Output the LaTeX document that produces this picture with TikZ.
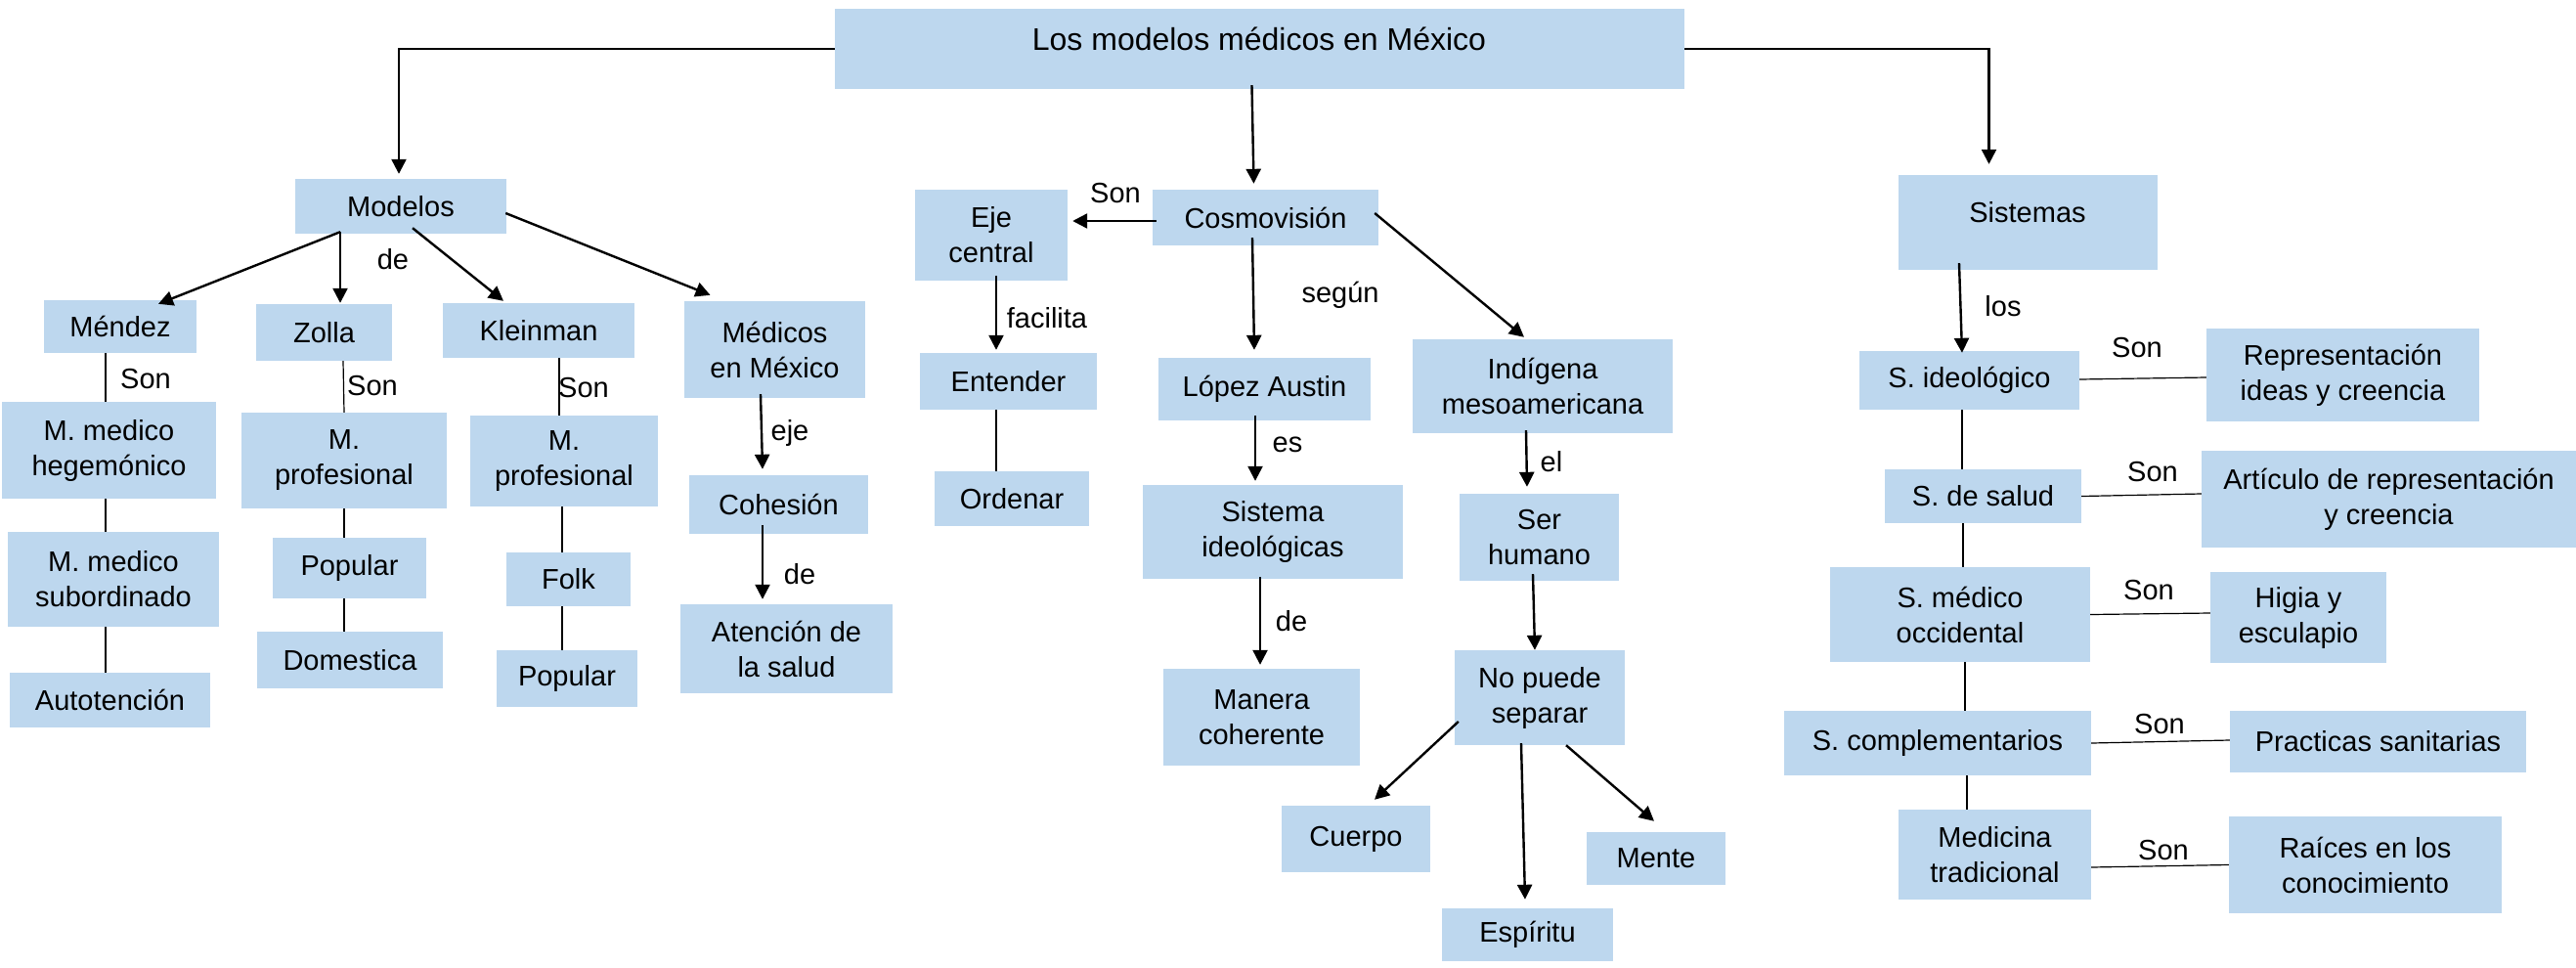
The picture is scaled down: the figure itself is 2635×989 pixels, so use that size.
\documentclass[tikz,border=0pt]{standalone}
\usepackage{fontspec}
\setmainfont{Liberation Sans}
\usetikzlibrary{arrows.meta}
\definecolor{boxblue}{RGB}{189,215,238}
\newcommand\BX[6]{\node[box,minimum width={#4-#2},minimum height={#5-#3}] (#1) at ({(#2+#4)/2},{(#3+#5)/2}) {#6};}
\begin{document}
\begin{tikzpicture}[x=1pt,y=-1pt,
 box/.style={fill=boxblue,inner sep=0pt,align=center,font=\fontsize{29}{36}\selectfont},
 lbl/.style={inner sep=0pt,font=\fontsize{29}{36}\selectfont},
 arr/.style={line width=2.4pt,-{Triangle[length=15pt,width=15pt]}},
 conn/.style={line width=1.2pt}]
\useasboundingbox (0,0) rectangle (2635,989);
% boxes
\BX{title}{854}{9}{1723}{91}{}
\node[lbl,font=\fontsize{32}{38}\selectfont] (titletxt) at (1288,40) {Los modelos médicos en México};
\BX{modelos}{302}{183}{518}{239}{Modelos}
\BX{mendez}{45}{307}{201}{361}{Méndez}
\BX{zolla}{262}{311}{401}{369}{Zolla}
\BX{klein}{453}{310}{649}{366}{Kleinman}
\BX{medicos}{700}{308}{885}{407}{Médicos\\en México}
\BX{hege}{2}{411}{221}{510}{M. medico\\hegemónico}
\BX{subo}{8}{544}{224}{641}{M. medico\\subordinado}
\BX{auto}{10}{688}{215}{744}{Autotención}
\BX{mprofz}{247}{422}{457}{520}{M.\\profesional}
\BX{popz}{279}{550}{436}{612}{Popular}
\BX{dom}{263}{646}{453}{704}{Domestica}
\BX{mprofk}{481}{425}{673}{518}{M.\\profesional}
\BX{folk}{518}{565}{645}{620}{Folk}
\BX{popk}{508}{665}{652}{723}{Popular}
\BX{cohe}{705}{486}{888}{546}{Cohesión}
\BX{aten}{696}{618}{913}{709}{Atención de\\la salud}
\BX{eje}{936}{194}{1092}{287}{Eje\\central}
\BX{cosmo}{1179}{194}{1410}{251}{Cosmovisión}
\BX{enten}{941}{361}{1122}{419}{Entender}
\BX{orden}{956}{482}{1114}{538}{Ordenar}
\BX{lopez}{1185}{366}{1402}{430}{López Austin}
\BX{indi}{1445}{347}{1711}{443}{Indígena\\mesoamericana}
\BX{sistid}{1169}{496}{1435}{592}{Sistema\\ideológicas}
\BX{manera}{1190}{684}{1391}{783}{Manera\\coherente}
\BX{ser}{1493}{505}{1656}{594}{Ser\\humano}
\BX{nopuede}{1488}{665}{1662}{762}{No puede\\separar}
\BX{cuerpo}{1311}{824}{1463}{892}{Cuerpo}
\BX{espiritu}{1475}{929}{1650}{983}{Espíritu}
\BX{mente}{1623}{851}{1765}{905}{Mente}
\BX{sistemas}{1942}{179}{2207}{276}{}
\node[lbl] (sistemastxt) at (2074,217) {Sistemas};
\BX{sideo}{1902}{359}{2127}{419}{S. ideológico}
\BX{repr}{2257}{336}{2536}{431}{Representación\\ideas y creencia}
\BX{ssalud}{1928}{480}{2129}{535}{S. de salud}
\BX{art}{2252}{461}{2635}{560}{Artículo de representación\\y creencia}
\BX{smed}{1872}{580}{2138}{677}{S. médico\\occidental}
\BX{higia}{2261}{585}{2441}{678}{Higia y\\esculapio}
\BX{scomp}{1825}{727}{2139}{793}{S. complementarios}
\BX{pract}{2281}{727}{2584}{790}{Practicas sanitarias}
\BX{medtrad}{1942}{828}{2139}{920}{Medicina\\tradicional}
\BX{raices}{2280}{835}{2559}{934}{Raíces en los\\conocimiento}
% arrows
\draw[arr] (title.west) -| ([shift={(-2,-5)}]modelos.north);
\draw[arr] ([shift={(-8,-4)}]title.south) -- ([shift={(-12,-6)}]cosmo.north);
\draw[arr] (title.east) -| ([shift={(-40,-11)}]sistemas.north);
\draw[arr] ([shift={(-62,-2)}]modelos.south) -- ([shift={(39,4)}]mendez.north);
\draw[arr] ([shift={(-62,-2)}]modelos.south) -- ([shift={(16.5,-1)}]zolla.north);
\draw[arr] ([shift={(12,-6)}]modelos.south) -- ([shift={(-36,-2)}]klein.north);
\draw[arr] ([shift={(-1,7)}]modelos.east) -- ([shift={(-66,-6)}]medicos.north);
\draw[arr] ([shift={(-14.5,-4)}]medicos.south) -- ([shift={(-16.5,-6)}]cohe.north);
\draw[arr] ([shift={(-16.5,-9)}]cohe.south) -- ([shift={(-24.5,-5)}]aten.north);
\draw[arr] ([shift={(4,3.5)}]cosmo.west) -- ([shift={(5,-14.5)}]eje.east);
\draw[arr] ([shift={(5,-5)}]eje.south) -- ([shift={(-12.5,-3)}]enten.north);
\draw[arr] ([shift={(-13.5,-8)}]cosmo.south) -- ([shift={(-10.5,-8)}]lopez.north);
\draw[arr] ([shift={(-4,-4.5)}]cosmo.east) -- ([shift={(-19,-2)}]indi.north);
\draw[arr] ([shift={(-9.5,-5)}]lopez.south) -- ([shift={(-18,-4)}]sistid.north);
\draw[arr] ([shift={(-17,-3)}]indi.south) -- ([shift={(-12.5,-7)}]ser.north);
\draw[arr] ([shift={(-13,-2)}]sistid.south) -- ([shift={(-1.5,-4)}]manera.north);
\draw[arr] ([shift={(-6.5,-7)}]ser.south) -- ([shift={(-5,0)}]nopuede.north);
\draw[arr] ([shift={(4,24.5)}]nopuede.west) -- ([shift={(19,-6)}]cuerpo.north);
\draw[arr] ([shift={(-19,-2)}]nopuede.south) -- ([shift={(-2.5,-9)}]espiritu.north);
\draw[arr] ([shift={(27,0)}]nopuede.south) -- ([shift={(-2,-11)}]mente.north);
\draw[arr] ([shift={(-70.5,-7)}]sistemas.south) -- ([shift={(-7.5,2)}]sideo.north);
% plain connectors
\draw[conn] ([shift={(-15,0)}]mendez.south) -- ([shift={(-3.5,0)}]hege.north);
\draw[conn] ([shift={(-3.5,0)}]hege.south) -- ([shift={(-8,0)}]subo.north);
\draw[conn] ([shift={(-8,0)}]subo.south) -- ([shift={(-4.5,0)}]auto.north);
\draw[conn] ([shift={(19.5,0)}]zolla.south) -- (mprofz.north);
\draw[conn] (mprofz.south) -- ([shift={(-5.5,0)}]popz.north);
\draw[conn] ([shift={(-5.5,0)}]popz.south) -- ([shift={(-6,0)}]dom.north);
\draw[conn] ([shift={(21,0)}]klein.south) -- ([shift={(-5,0)}]mprofk.north);
\draw[conn] ([shift={(-2,0)}]mprofk.south) -- ([shift={(-6.5,0)}]folk.north);
\draw[conn] ([shift={(-6.5,0)}]folk.south) -- ([shift={(-5,0)}]popk.north);
\draw[conn] ([shift={(-12.5,0)}]enten.south) -- ([shift={(-16,0)}]orden.north);
\draw[conn] ([shift={(-7.5,0)}]sideo.south) -- ([shift={(-21.5,0)}]ssalud.north);
\draw[conn] ([shift={(-20.5,0)}]ssalud.south) -- ([shift={(3,0)}]smed.north);
\draw[conn] ([shift={(5,0)}]smed.south) -- ([shift={(28,0)}]scomp.north);
\draw[conn] ([shift={(30,0)}]scomp.south) -- ([shift={(-28.5,0)}]medtrad.north);
\draw[conn] ([shift={(0,-1)}]sideo.east) -- ([shift={(0,2.5)}]repr.west);
\draw[conn] (ssalud.east) -- ([shift={(0,-5.5)}]art.west);
\draw[conn] (smed.east) -- ([shift={(0,-4.5)}]higia.west);
\draw[conn] (scomp.east) -- ([shift={(0,-1.5)}]pract.west);
\draw[conn] ([shift={(0,13)}]medtrad.east) -- (raices.west);
% labels
\node[lbl] (l1) at (402,265) {de};
\node[lbl] (l2) at (149,388) {Son};
\node[lbl] (l3) at (381,395) {Son};
\node[lbl] (l4) at (597,397) {Son};
\node[lbl] (l5) at (808,443) {eje};
\node[lbl] (l6) at (818,587) {de};
\node[lbl] (l7) at (1141,198) {Son};
\node[lbl] (l8) at (1071,325) {facilita};
\node[lbl] (l9) at (1371,302) {según};
\node[lbl] (l10) at (1317,455) {es};
\node[lbl] (l11) at (1587,472) {el};
\node[lbl] (l12) at (1321,635) {de};
\node[lbl] (l13) at (2049,313) {los};
\node[lbl] (l14) at (2186,356) {Son};
\node[lbl] (l15) at (2202,483) {Son};
\node[lbl] (l16) at (2198,604) {Son};
\node[lbl] (l17) at (2209,741) {Son};
\node[lbl] (l18) at (2213,870) {Son};
\end{tikzpicture}
\end{document}
